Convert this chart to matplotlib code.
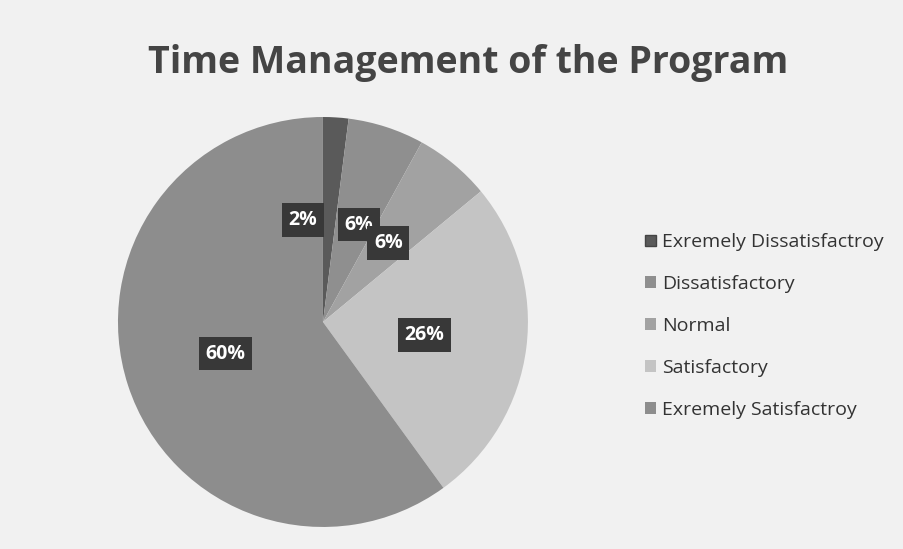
import matplotlib.pyplot as plt
from matplotlib.patches import Patch

# data
categories = ['Exremely Dissatisfactroy', 'Dissatisfactory', 'Normal',
              'Satisfactory', 'Exremely Satisfactroy']
shares = [2, 6, 6, 26, 60]
colors = ['#5a5a5a', '#8f8f8f', '#a2a2a2', '#c4c4c4', '#8d8d8d']

plt.rcParams['font.family'] = ['Open Sans', 'DejaVu Sans']

fig = plt.figure(figsize=(9.04, 5.49), dpi=100)
fig.patch.set_facecolor('#f1f1f1')

ax = fig.add_axes([0.1305, 0.040, 0.4535, 0.747])
wedges, texts, autotexts = ax.pie(
    shares, colors=colors, startangle=90, counterclock=False,
    autopct='%d%%', pctdistance=0.5,
    wedgeprops=dict(linewidth=0),
    textprops=dict(color='white', fontsize=14, fontweight='bold'))
ax.set_xlim(-1, 1)
ax.set_ylim(-1, 1)
for t in autotexts:
    t.set_bbox(dict(boxstyle='square,pad=0.35', facecolor='#383838', edgecolor='none'))
# small labels near the top sit side by side; nudge them apart
x, y = autotexts[0].get_position()
autotexts[0].set_position((x - 0.13, y))
x, y = autotexts[1].get_position()
autotexts[1].set_position((x + 0.02, y))
ax.set_aspect('equal')

fig.text(0.518, 0.885, 'Time Management of the Program', ha='center', va='center',
         fontsize=27, fontweight='bold', color='#444444')

handles = [Patch(facecolor=c, edgecolor='#444444' if i == 0 else 'none')
           for i, c in enumerate(colors)]
fig.legend(handles, categories, loc='upper left', bbox_to_anchor=(0.694, 0.607),
           frameon=False, handlelength=0.55, handleheight=0.55,
           handletextpad=0.35, labelspacing=1.23, labelcolor='#333333',
           prop=dict(size=14, weight='medium'))

plt.savefig('out.png', dpi=100, facecolor=fig.get_facecolor())
